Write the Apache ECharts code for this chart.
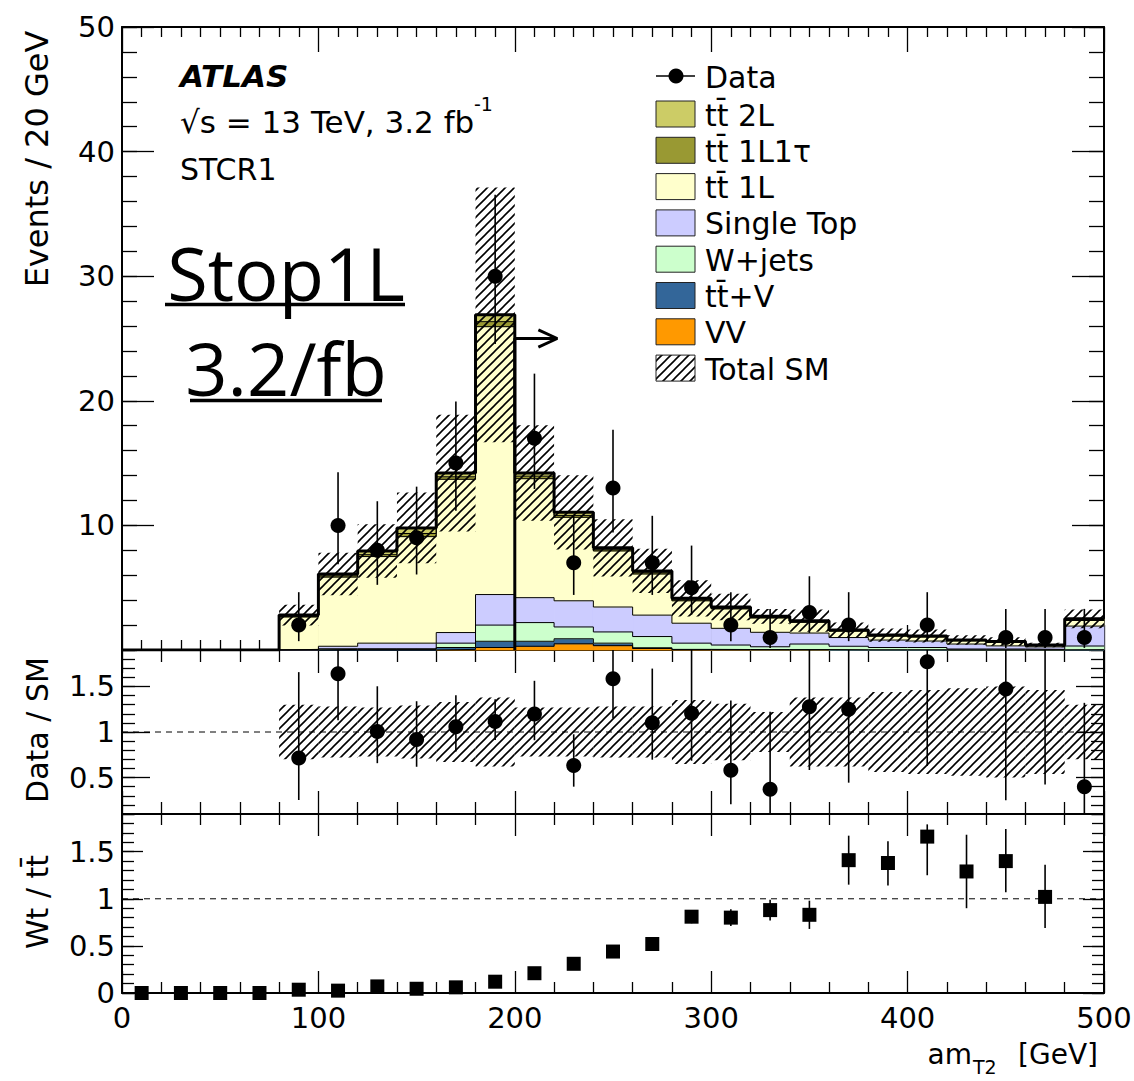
<!DOCTYPE html>
<html>
<head>
<meta charset="utf-8">
<title>STCR1 amT2</title>
<script src="https://cdn.jsdelivr.net/npm/echarts@6/dist/echarts.min.js"></script>
<style>
html,body{margin:0;padding:0;background:#fff;}
#chart{width:1134px;height:1081px;}
</style>
</head>
<body>
<div id="chart"></div>
<script>
// 20 GeV bins, centres
var binCentres = [10,30,50,70,90,110,130,150,170,190,210,230,250,270,290,310,330,350,370,390,410,430,450,470,490];
var binW = 20;

// data counts and their (poisson) error bars
var dataCounts = [0,0,0,0,2,10,8,9,15,30,17,7,13,7,5,2,1,3,2,0,2,0,1,1,1];
var dataErrLo  = [0,0,0,0,1.29,3.11,2.77,2.94,3.82,5.45,4.08,2.58,3.56,2.58,2.16,1.29,0.83,1.63,1.29,0,1.29,0,0.83,0.83,0.83];
var dataErrHi  = [0,0,0,0,2.64,4.26,3.94,4.11,4.94,6.54,5.18,3.77,4.67,3.77,3.38,2.64,2.30,2.92,2.64,0,2.64,0,2.30,2.30,2.30];

// SM backgrounds (stacked bottom -> top)
var vv        = [0,0,0,0,0,0,0,0,0.05,0.2,0.3,0.5,0.35,0.12,0.03,0.02,0.02,0.02,0,0,0,0,0,0,0];
var ttV       = [0,0,0,0,0,0.05,0.05,0.05,0.15,0.5,0.4,0.4,0.2,0.06,0.02,0.02,0.01,0.01,0.01,0.01,0.01,0,0,0,0.02];
var wJets     = [0,0,0,0,0,0.05,0.05,0.05,0.35,1.3,1.5,0.95,0.9,0.9,0.5,0.36,0.23,0.45,0.29,0.19,0.19,0.08,0.08,0.05,0.3];
var singleTop = [0,0,0,0,0.05,0.2,0.45,0.45,0.85,2.45,2.0,2.1,2.0,1.72,1.6,1.34,1.16,0.88,0.7,0.6,0.52,0.4,0.25,0.2,1.6];
var tt1L      = [0,0,0,0,2.6,5.55,6.95,8.55,12.3,21.5,9.55,6.7,4.5,3.3,1.8,1.56,1.15,0.86,0.52,0.32,0.33,0.26,0.3,0.1,0.45];
var tt1L1tau  = [0,0,0,0,0.05,0.1,0.15,0.25,0.2,0.4,0.2,0.15,0.1,0.1,0.08,0.05,0.05,0.05,0.03,0.03,0.03,0.02,0.02,0.02,0.05];
var tt2L      = [0,0,0,0,0.1,0.15,0.3,0.45,0.3,0.55,0.25,0.25,0.15,0.15,0.12,0.1,0.08,0.08,0.05,0.05,0.05,0.04,0.03,0.03,0.08];

// relative total SM uncertainty (half width of hatched band)
var smRelUnc = [0,0,0,0,0.30,0.28,0.27,0.29,0.33,0.38,0.27,0.27,0.28,0.28,0.35,0.31,0.22,0.38,0.38,0.44,0.46,0.48,0.50,0.46,0.30];

// Wt / ttbar ratio
var wtRatio = [0,0,0,0,0.035,0.025,0.07,0.045,0.06,0.12,0.21,0.31,0.44,0.52,0.81,0.80,0.88,0.83,1.41,1.38,1.66,1.29,1.40,1.02,null];
var wtErrLo = [0.01,0.01,0.01,0.01,0.02,0.02,0.02,0.02,0.02,0.03,0.04,0.05,0.05,0.06,0.07,0.09,0.11,0.15,0.26,0.24,0.41,0.39,0.33,0.33,0];
var wtErrHi = [0.01,0.01,0.01,0.01,0.02,0.02,0.02,0.02,0.02,0.03,0.04,0.05,0.05,0.06,0.07,0.09,0.11,0.15,0.26,0.23,0.13,0.39,0.34,0.34,0];

// tick labels
var topYLabels = [10,20,30,40,50];
var midYLabels = [0.5,1,1.5];
var botYLabels = [0,0.5,1,1.5];

// cut arrow (amT2 > 200)
var cutX = 200, arrowY = 25, arrowEnd = 221.6;

var fontMain = 'DejaVu Sans';

var stackDefs = [
  {name:'VV', vals:vv, color:'#ff9900'},
  {name:'tt\u0304+V', vals:ttV, color:'#336699'},
  {name:'W+jets', vals:wJets, color:'#ccffcc'},
  {name:'Single Top', vals:singleTop, color:'#ccccff'},
  {name:'tt\u0304 1L', vals:tt1L, color:'#ffffcc'},
  {name:'tt\u0304 1L1\u03c4', vals:tt1L1tau, color:'#999933'},
  {name:'tt\u0304 2L', vals:tt2L, color:'#cccc66'}
];

// hatch fill ////
function makeHatch(){
  var c = document.createElement('canvas');
  c.width = 9; c.height = 9;
  var g = c.getContext('2d');
  g.strokeStyle = '#000'; g.lineWidth = 1.6;
  g.beginPath();
  g.moveTo(0, 9); g.lineTo(9, 0);
  g.moveTo(-2, 2); g.lineTo(2, -2);
  g.moveTo(7, 11); g.lineTo(11, 7);
  g.stroke();
  return {image:c, repeat:'repeat'};
}
var hatchFill = makeHatch();

// step points at low edges plus closing edge
function stepData(vals){
  var out = [];
  for (var i = 0; i < binCentres.length; i++) out.push([binCentres[i] - binW/2, vals[i]]);
  out.push([binCentres[binCentres.length-1] + binW/2, vals[vals.length-1]]);
  return out;
}

function rectItem(fill, stroke){
  return function(params, api){
    var a = api.coord([api.value(0), api.value(3)]);
    var b = api.coord([api.value(1), api.value(2)]);
    return {type:'rect', shape:{x:a[0], y:a[1], width:b[0]-a[0], height:b[1]-a[1]},
      style:{fill:fill, stroke:stroke, lineWidth:stroke ? 0.8 : 0}};
  };
}

function errItem(lo, hi){
  return function(params, api){
    var y0 = Math.max(api.value(1), lo), y1 = Math.min(api.value(2), hi);
    if (y1 <= y0) return null;
    var a = api.coord([api.value(0), y0]), b = api.coord([api.value(0), y1]);
    return {type:'line', shape:{x1:a[0], y1:a[1], x2:b[0], y2:b[1]},
      style:{stroke:'#000', lineWidth:1.6}};
  };
}

var series = [];

// ---- top panel: stacked histogram
var base = binCentres.map(function(){ return 0; });
stackDefs.forEach(function(d){
  var rects = [], top = [];
  binCentres.forEach(function(c, j){
    var hi = Math.round((base[j] + d.vals[j]) * 1000) / 1000;
    if (d.vals[j] > 0) rects.push([c - binW/2, c + binW/2, base[j], hi]);
    top.push(hi);
  });
  series.push({type:'custom', name:d.name, coordinateSystem:'cartesian2d', xAxisIndex:0, yAxisIndex:0,
    renderItem:rectItem(d.color, d.color), data:rects, silent:true, z:2});
  series.push({type:'line', xAxisIndex:0, yAxisIndex:0, step:'end', data:stepData(top),
    symbol:'none', silent:true, z:3, lineStyle:{color:'#000', width:1}});
  base = top;
});
var smTotal = base;

var bandTop = [], bandMid = [];
binCentres.forEach(function(c, i){
  if (smTotal[i] > 0) {
    bandTop.push([c - binW/2, c + binW/2, smTotal[i]*(1 - smRelUnc[i]), smTotal[i]*(1 + smRelUnc[i])]);
    bandMid.push([c - binW/2, c + binW/2, 1 - smRelUnc[i], 1 + smRelUnc[i]]);
  }
});
series.push({type:'custom', coordinateSystem:'cartesian2d', xAxisIndex:0, yAxisIndex:0,
  renderItem:rectItem(hatchFill, null), data:bandTop, silent:true, z:11});
series.push({type:'line', xAxisIndex:0, yAxisIndex:0, step:'end', data:stepData(smTotal),
  symbol:'none', silent:true, z:12, lineStyle:{color:'#000', width:3}});
// cut line + arrow
series.push({type:'line', xAxisIndex:0, yAxisIndex:0, data:[[cutX,0],[cutX,arrowY],[arrowEnd,arrowY]],
  symbol:'none', silent:true, z:13, lineStyle:{color:'#000', width:3}});
series.push({type:'line', xAxisIndex:0, yAxisIndex:0, data:[[arrowEnd-9.6,arrowY+0.7],[arrowEnd,arrowY],[arrowEnd-9.6,arrowY-0.7]],
  symbol:'none', silent:true, z:13, lineStyle:{color:'#000', width:3}});

var dataPts = [], dataErr = [], ratioPts = [], ratioErr = [];
binCentres.forEach(function(c, i){
  if (dataCounts[i] > 0) {
    dataPts.push([c, dataCounts[i]]);
    dataErr.push([c, dataCounts[i] - dataErrLo[i], dataCounts[i] + dataErrHi[i]]);
    ratioPts.push([c, dataCounts[i] / smTotal[i]]);
    ratioErr.push([c, (dataCounts[i] - dataErrLo[i]) / smTotal[i], (dataCounts[i] + dataErrHi[i]) / smTotal[i]]);
  }
});
series.push({type:'custom', coordinateSystem:'cartesian2d', xAxisIndex:0, yAxisIndex:0,
  renderItem:errItem(0, 50), data:dataErr, silent:true, z:14});
series.push({type:'scatter', xAxisIndex:0, yAxisIndex:0, data:dataPts, symbol:'circle', symbolSize:15,
  itemStyle:{color:'#000', opacity:1}, silent:true, z:15});

// ---- Data / SM panel
series.push({type:'custom', coordinateSystem:'cartesian2d', xAxisIndex:2, yAxisIndex:4,
  renderItem:rectItem(hatchFill, null), data:bandMid, silent:true, z:2});
series.push({type:'line', xAxisIndex:2, yAxisIndex:4, data:[[0,1],[500,1]], symbol:'none', silent:true, z:3,
  lineStyle:{color:'#000', width:1, type:[6,5]}});
series.push({type:'custom', coordinateSystem:'cartesian2d', xAxisIndex:2, yAxisIndex:4,
  renderItem:errItem(0.1, 1.9), data:ratioErr, silent:true, z:4});
series.push({type:'scatter', xAxisIndex:2, yAxisIndex:4, data:ratioPts, symbol:'circle', symbolSize:15,
  clip:true, itemStyle:{color:'#000', opacity:1}, silent:true, z:5});

// ---- Wt / tt panel
var wtPts = [], wtErr = [];
binCentres.forEach(function(c, i){
  if (wtRatio[i] !== null) {
    wtPts.push([c, wtRatio[i]]);
    wtErr.push([c, wtRatio[i] - wtErrLo[i], wtRatio[i] + wtErrHi[i]]);
  }
});
series.push({type:'line', xAxisIndex:4, yAxisIndex:8, data:[[0,1],[500,1]], symbol:'none', silent:true, z:3,
  lineStyle:{color:'#000', width:1, type:[6,5]}});
series.push({type:'custom', coordinateSystem:'cartesian2d', xAxisIndex:4, yAxisIndex:8,
  renderItem:errItem(0, 1.9), data:wtErr, silent:true, z:4});
series.push({type:'scatter', xAxisIndex:4, yAxisIndex:8, data:wtPts, symbol:'rect', symbolSize:14,
  clip:false, itemStyle:{color:'#000', opacity:1}, silent:true, z:5});

// ---- axes
var tickLine = {color:'#000', width:1.3};
function xAx(grid, pos, split, majorLen, minorLen, labels){
  return {
    type:'value', gridIndex:grid, position:pos, min:0, max:500, interval:100,
    axisLine:{show:true, onZero:false, lineStyle:{color:'#000', width:2}},
    axisTick:{show:true, inside:true, length:majorLen, lineStyle:tickLine},
    minorTick:{show:true, splitNumber:split, length:minorLen, lineStyle:tickLine},
    axisLabel: labels ? {show:true, margin:10, color:'#000', fontFamily:fontMain, fontSize:29} : {show:false},
    splitLine:{show:false}, minorSplitLine:{show:false}
  };
}
function yAx(grid, pos, min, max, step, majors, labels, minorLen, majorLen){
  return [{
    type:'value', gridIndex:grid, position:pos, min:min, max:max, interval:step,
    axisLine:{show:true, onZero:false, lineStyle:{color:'#000', width:2}},
    axisTick:{show:true, inside:true, length:minorLen, lineStyle:tickLine},
    axisLabel: labels ? {show:true, customValues:labels, margin:7, color:'#000', fontFamily:fontMain, fontSize:29} : {show:false},
    splitLine:{show:false}
  }, {
    type:'value', gridIndex:grid, position:pos, min:min, max:max,
    axisLine:{show:false, onZero:false},
    axisTick:{show:true, inside:true, length:majorLen, customValues:majors, lineStyle:tickLine},
    axisLabel:{show:false}, splitLine:{show:false}
  }];
}

var xAxes = [
  xAx(0, 'bottom', 10, 25, 10, false), xAx(0, 'top', 10, 25, 10, false),
  xAx(1, 'bottom', 5, 23, 12, false), xAx(1, 'top', 5, 23, 12, false),
  xAx(2, 'bottom', 5, 22, 11, true), xAx(2, 'top', 5, 22, 11, false)
];
var yAxes = [].concat(
  yAx(0, 'left', 0, 50, 2, topYLabels, topYLabels, 15, 32),
  yAx(0, 'right', 0, 50, 2, topYLabels, null, 15, 32),
  yAx(1, 'left', 0.1, 1.9, 0.1, midYLabels, midYLabels, 13, 28),
  yAx(1, 'right', 0.1, 1.9, 0.1, midYLabels, null, 13, 28),
  yAx(2, 'left', 0, 1.9, 0.1, botYLabels, botYLabels, 12, 21),
  yAx(2, 'right', 0, 1.9, 0.1, botYLabels, null, 12, 21)
);

// ---- texts, legend
function txt(x, y, s, size, o){
  o = o || {};
  var st = {text:s, fill:'#000', fontSize:size, fontFamily:o.family || fontMain,
      fontWeight:o.weight || 'normal', fontStyle:o.style || 'normal',
      align:o.align || 'left', verticalAlign:'middle'};
  if (o.lh) st.lineHeight = o.lh;
  return {type:'text', x:x, y:y, rotation:o.rot || 0, silent:true, z:20, style:st};
}
function hline(x1, x2, y, w){
  return {type:'line', silent:true, z:20, shape:{x1:x1, y1:y, x2:x2, y2:y}, style:{stroke:'#000', lineWidth:w}};
}

var graphics = [
  txt(180, 76, 'ATLAS', 31, {weight:'bold', style:'italic'}),
  txt(180, 122, '\u221as = 13 TeV, 3.2 fb', 31),
  txt(474, 104, '-1', 19),
  txt(180, 169, 'STCR1', 30),
  txt(286, 272, 'Stop1L', 74, {family:'Open Sans', align:'center', lh:56}),
  hline(165, 405, 304.5, 3.5),
  txt(286, 367, '3.2/fb', 74, {family:'Open Sans', align:'center', lh:56}),
  hline(190, 382, 400.5, 3.5),
  txt(37, 159, 'Events / 20 GeV', 32, {rot:Math.PI/2, align:'center'}),
  txt(37, 730, 'Data / SM', 30, {rot:Math.PI/2, align:'center'}),
  txt(37, 902, 'Wt / tt\u0304', 30, {rot:Math.PI/2, align:'center'}),
  txt(972, 1054, 'am', 28, {align:'right'}),
  txt(973, 1067, 'T2', 19),
  txt(1098, 1054, '[GeV]', 28, {align:'right'})
];

// legend
var legX = 656, legTextX = 705;
graphics.push(hline(legX, legX + 39, 76, 1.5));
graphics.push({type:'circle', silent:true, z:20, shape:{cx:legX + 20, cy:76, r:7.5}, style:{fill:'#000'}});
graphics.push(txt(legTextX, 77, 'Data', 30));
var legBoxes = stackDefs.slice().reverse().map(function(d){ return {label:d.name, fill:d.color}; });
legBoxes.push({label:'Total SM', fill:hatchFill});
legBoxes.forEach(function(b, i){
  var cy = 114 + i * 36.3;
  graphics.push({type:'rect', silent:true, z:20, shape:{x:legX, y:cy - 13, width:39, height:26},
    style:{fill:b.fill, stroke:'#222', lineWidth:1}});
  graphics.push(txt(legTextX, cy + 1, b.label, 30));
});

var option = {
  animation:false,
  backgroundColor:'#fff',
  grid:[
    {left:122, top:27, width:982, height:623, outerBoundsMode:'none'},
    {left:122, top:650, width:982, height:164, outerBoundsMode:'none'},
    {left:122, top:814, width:982, height:179, outerBoundsMode:'none'}
  ],
  xAxis:xAxes,
  yAxis:yAxes,
  series:series,
  graphic:graphics
};

var myChart = echarts.init(document.getElementById('chart'), null, {renderer:'svg'});
myChart.setOption(option);
</script>
</body>
</html>
